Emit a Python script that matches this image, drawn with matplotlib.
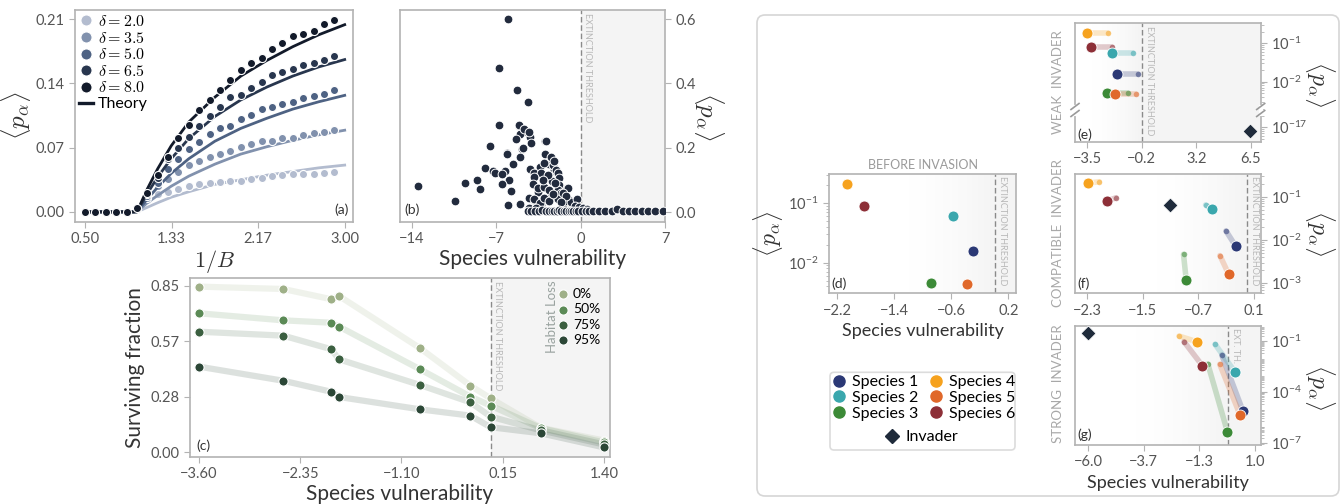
import numpy as np
import matplotlib.pyplot as plt
from matplotlib.patches import FancyBboxPatch
from matplotlib.lines import Line2D
from matplotlib.ticker import LogLocator, NullFormatter

plt.rcParams['font.family'] = ['Lato', 'DejaVu Sans']
plt.rcParams['mathtext.fontset'] = 'cm'
plt.rcParams['axes.edgecolor'] = '#b3b3b3'
plt.rcParams['axes.linewidth'] = 1.2
plt.rcParams['xtick.color'] = '#b3b3b3'
plt.rcParams['ytick.color'] = '#b3b3b3'
plt.rcParams['xtick.labelcolor'] = '#555555'
plt.rcParams['ytick.labelcolor'] = '#555555'
plt.rcParams['xtick.labelsize'] = 10.5
plt.rcParams['ytick.labelsize'] = 10.5
plt.rcParams['axes.labelcolor'] = '#333333'
plt.rcParams['xtick.major.size'] = 4
plt.rcParams['ytick.major.size'] = 4
plt.rcParams['xtick.minor.size'] = 2
plt.rcParams['ytick.minor.size'] = 2

W, H = 1343, 504

# ---- (a) mean abundance vs 1/B
x_a = [0.5, 0.6, 0.7, 0.8, 0.9, 1.0, 1.1, 1.2, 1.3, 1.4, 1.5, 1.6, 1.7,
       1.8, 1.9, 2.0, 2.1, 2.2, 2.3, 2.4, 2.5, 2.6, 2.7, 2.8, 2.9]
deltas = [2.0, 3.5, 5.0, 6.5, 8.0]
pa_20 = [0, 0, 0, 0, 0, 0.003, 0.013, 0.019, 0.022, 0.025, 0.028, 0.030, 0.031,
         0.033, 0.034, 0.034, 0.036, 0.037, 0.039, 0.040, 0.041, 0.041, 0.041, 0.042, 0.043]
pa_35 = [0, 0, 0, 0, 0, 0.003, 0.015, 0.028, 0.036, 0.044, 0.051, 0.055, 0.060,
         0.063, 0.066, 0.071, 0.074, 0.077, 0.077, 0.081, 0.081, 0.084, 0.086, 0.087, 0.089]
pa_50 = [0, 0, 0, 0, 0, 0.003, 0.017, 0.032, 0.047, 0.058, 0.068, 0.076, 0.085,
         0.091, 0.094, 0.101, 0.106, 0.112, 0.114, 0.118, 0.120, 0.124, 0.126, 0.129, 0.133]
pa_65 = [0, 0, 0, 0, 0, 0.004, 0.019, 0.037, 0.058, 0.070, 0.082, 0.094, 0.104,
         0.114, 0.125, 0.127, 0.135, 0.142, 0.149, 0.152, 0.156, 0.160, 0.162, 0.165, 0.170]
pa_80 = [0, 0, 0, 0, 0, 0.004, 0.021, 0.040, 0.060, 0.081, 0.095, 0.111, 0.122,
         0.133, 0.144, 0.155, 0.162, 0.168, 0.177, 0.184, 0.192, 0.194, 0.197, 0.205, 0.209]
x_theory = [0.5, 0.9, 1.0, 1.1, 1.2, 1.33, 1.5, 1.75, 2.0, 2.25, 2.5, 2.75, 3.0]
th_20 = [0, 0, 0, 0.005, 0.010, 0.016, 0.022, 0.030, 0.035, 0.040, 0.044, 0.048, 0.051]
th_35 = [0, 0, 0, 0.010, 0.018, 0.028, 0.039, 0.052, 0.063, 0.071, 0.078, 0.084, 0.089]
th_50 = [0, 0, 0, 0.014, 0.027, 0.042, 0.058, 0.077, 0.091, 0.102, 0.112, 0.120, 0.127]
th_65 = [0, 0, 0, 0.020, 0.038, 0.058, 0.080, 0.104, 0.122, 0.136, 0.148, 0.158, 0.166]
th_80 = [0, 0, 0, 0.025, 0.047, 0.072, 0.098, 0.125, 0.148, 0.165, 0.180, 0.193, 0.204]
a_colors = ['#b3bccf', '#8191ad', '#4e6283', '#28364e', '#121a2a']

# ---- (b) abundance vs vulnerability
xb = [-6.0, -6.8, -5.3, -4.35, -6.8, -5.1, -4.8, -4.45, -5.0, -4.2, -4.15, -5.35,
      -7.55, -4.85, -6.1, -6.1, -2.95, -2.95, -5.0, -2.8, -2.6, -5.65, -7.95, -3.4,
      -4.2, -2.2, -2.05, -1.9, -7.25, -6.3, -7.1, -6.55, -3.85, -8.6, -9.6, -5.95,
      -6.55, -13.5, -8.4, -5.8, -10.45, -6.0, -5.0, -5.08, -4.67, -4.25, -4.8,
      -2.89, -2.33, -2.06, -1.92, -1.78, -1.78, -2.06, -2.47, -3.02, -3.57, -3.98,
      -3.84, -4.25, -3.3, -1.37, -1.1, -0.96, -0.68, -0.27, -2.47, -2.2, -3.02,
      -3.3, -3.84, -3.98, -3.57, -3.02, -2.61, -1.92, -1.04, -1.64, -4.26, -3.84,
      -3.35, -3.02, -2.61, -1.92, -1.31, -0.82, -0.27, -4.4, -3.71, -2.4, -2.7,
      -1.5, -1.2, -0.5, -2.1, -1.6, -3.1, -2.3, -0.1, 0.2, 0.5,
      -4.1, -3.8, -3.5, -3.2, -2.9, -2.6, -2.4, -2.2, -2.0, -1.8, -1.6, -1.4,
      -1.2, -1.0, -0.8, -0.6, -0.4, -0.2, 0.1, 0.4, 0.7, 1.0, 1.5, 2.0, 2.6,
      3.0, 3.5, 4.0, 4.5, 5.1, 5.6, 6.2, 6.8]
yb = [0.600, 0.449, 0.379, 0.343, 0.270, 0.267, 0.253, 0.250, 0.241, 0.232, 0.214,
      0.228, 0.206, 0.196, 0.185, 0.180, 0.222, 0.180, 0.172, 0.151, 0.150, 0.148,
      0.136, 0.141, 0.133, 0.130, 0.124, 0.118, 0.127, 0.126, 0.120, 0.117, 0.120,
      0.100, 0.089, 0.100, 0.088, 0.082, 0.072, 0.065, 0.034, 0.022, 0.024, 0.270,
      0.257, 0.250, 0.198, 0.222, 0.146, 0.131, 0.120, 0.105, 0.085, 0.063, 0.048,
      0.079, 0.063, 0.089, 0.037, 0.012, 0.022, 0.027, 0.074, 0.037, 0.022, 0.012,
      0.172, 0.160, 0.152, 0.120, 0.110, 0.086, 0.074, 0.078, 0.068, 0.070, 0.074,
      0.058, 0.044, 0.039, 0.028, 0.044, 0.033, 0.039, 0.033, 0.031, 0.039, 0.002,
      0.012, 0.095, 0.115, 0.060, 0.050, 0.020, 0.090, 0.030, 0.100, 0.055, 0.015,
      0.012, 0.008,
      0.003, 0.004, 0.002, 0.005, 0.003, 0.002, 0.004, 0.003, 0.002, 0.005, 0.003,
      0.002, 0.004, 0.003, 0.002, 0.004, 0.003, 0.002, 0.004, 0.003, 0.002, 0.003,
      0.002, 0.003, 0.002, 0.010, 0.003, 0.002, 0.003, 0.002, 0.003, 0.002, 0.003]

# ---- (c) surviving fraction under habitat loss
x_c = [-3.60, -2.56, -1.97, -1.87, -0.87, -0.25, 0.0, 0.62, 1.40]
hl_0 = [0.845, 0.833, 0.781, 0.797, 0.531, 0.340, 0.275, 0.125, 0.060]
hl_50 = [0.709, 0.673, 0.661, 0.641, 0.423, 0.284, 0.238, 0.123, 0.050]
hl_75 = [0.615, 0.595, 0.526, 0.474, 0.343, 0.255, 0.182, 0.112, 0.040]
hl_95 = [0.437, 0.365, 0.309, 0.282, 0.219, 0.187, 0.128, 0.097, 0.025]
hl_labels = ['0%', '50%', '75%', '95%']
hl_colors = ['#9fb088', '#5b8a56', '#3b5f40', '#2b4636']

# ---- (d)-(g) invasion, species 1..6
species = ['Species 1', 'Species 2', 'Species 3', 'Species 4', 'Species 5', 'Species 6']
sp_colors = ['#2b3875', '#3aa7ad', '#3c8a37', '#f6a21e', '#e0682a', '#8d2f37']
inv_color = '#1f2b3b'

d_x = [-0.29, -0.58, -0.885, -2.064, -0.376, -1.821]
d_y = [0.0159, 0.0618, 0.0046, 0.211, 0.0043, 0.091]

e_before_x = [-0.41, -0.715, -1.02, -2.25, -0.51, -2.0]
e_before_y = [0.0162, 0.0569, 0.0050, 0.182, 0.0047, 0.0815]
e_after_x = [-1.70, -1.985, -2.31, -3.5, -1.80, -3.27]
e_after_y = [0.0162, 0.0569, 0.0050, 0.182, 0.0047, 0.0815]
e_inv = (6.48, 8e-18)

f_before_x = [-0.303, -0.597, -0.915, -2.127, -0.39, -1.886]
f_before_y = [0.0162, 0.0645, 0.00468, 0.222, 0.00437, 0.0948]
f_after_x = [-0.164, -0.511, -0.876, -2.294, -0.265, -2.01]
f_after_y = [0.00726, 0.052, 0.00119, 0.204, 0.00163, 0.0796]
f_inv = (-1.107, 0.0646)

g_before_x = [-0.395, -0.676, -0.98, -2.19, -0.48, -1.98]
g_before_y = [0.0149, 0.064, 0.0044, 0.197, 0.0042, 0.091]
g_after_x = [0.487, 0.176, -0.16, -1.446, 0.374, -1.21]
g_after_y = [7.8e-6, 0.0014, 4.5e-7, 0.091, 4.3e-6, 0.0035]
g_inv = (-6.0, 0.284)

PA = r'$\langle p_\alpha \rangle$'


def rect(x0, y0, x1, y1):
    return [x0 / W, 1 - y1 / H, (x1 - x0) / W, (y1 - y0) / H]


def fmt(v, n):
    return ('%.*f' % (n, v)).replace('-', '\u2212')


def sci(e):
    return r'$\mathregular{10^{%d}}$' % e


def threshold(ax, x, xmax, label, grad_from=None, fs=6.5):
    ax.axvspan(x, xmax, color='#f4f4f4', lw=0, zorder=0)
    if grad_from is not None:
        edges = np.linspace(grad_from, x, 31)
        for k in range(30):
            ax.axvspan(edges[k], edges[k + 1], color='#f4f4f4',
                       alpha=((k + 1) / 30) ** 1.5, lw=0, zorder=0)
    ax.axvline(x, color='#8a8a8a', ls=(0, (4, 2)), lw=1, zorder=1)
    if label:
        ax.annotate(label, xy=(x, 0.985), xycoords=ax.get_xaxis_transform(),
                    xytext=(2, 0), textcoords='offset points', rotation=-90,
                    ha='left', va='top', fontsize=fs, color='#b8b8b8')


def panel_tag(ax, tag, right=False):
    ax.text(0.985 if right else 0.015, 0.03, tag, transform=ax.transAxes,
            ha='right' if right else 'left', va='bottom', fontsize=10, color='#333333')


def log_right(ax, exps, lo, hi):
    ax.set_yscale('log')
    ax.set_ylim(10 ** lo, 10 ** hi)
    ax.yaxis.tick_right()
    ax.set_yticks([10.0 ** e for e in exps])
    ax.set_yticklabels([sci(e) for e in exps])
    ax.yaxis.set_minor_locator(LogLocator(base=10, subs=np.arange(2, 10), numticks=100))
    ax.yaxis.set_minor_formatter(NullFormatter())


def invasion(ax, bx, by, axx, ayy):
    for i in range(6):
        ax.plot([bx[i], axx[i]], [by[i], ayy[i]], color=sp_colors[i], alpha=0.25,
                lw=4, solid_capstyle='round', zorder=2)
        ax.scatter(bx[i], by[i], s=16, color=sp_colors[i], alpha=0.55, lw=0, zorder=3)
        ax.scatter(axx[i], ayy[i], s=62, color=sp_colors[i], edgecolor='white',
                   lw=0.6, zorder=4)


fig = plt.figure(figsize=(W / 100, H / 100), dpi=100)

# ---------------- (a)
ax = fig.add_axes(rect(75, 10, 353, 222))
a_points = [pa_20, pa_35, pa_50, pa_65, pa_80]
a_theory = [th_20, th_35, th_50, th_65, th_80]
for i in range(5):
    ax.plot(x_theory, a_theory[i], color=a_colors[i], lw=2, zorder=2 + 2 * i)
    ax.scatter(x_a, a_points[i], s=34, color=a_colors[i], edgecolor='white',
               linewidth=0.8, zorder=3 + 2 * i)
ax.set_xlim(0.404, 3.08)
ax.set_ylim(-0.011, 0.22)
ax.set_xticks(np.linspace(0.5, 3.0, 4))
ax.set_xticklabels([fmt(v, 2) for v in np.linspace(0.5, 3.0, 4)])
ax.set_yticks([0, 0.07, 0.14, 0.21])
ax.set_yticklabels([fmt(v, 2) for v in [0, 0.07, 0.14, 0.21]])
ax.set_xlabel(r'$1/B$', fontsize=16, labelpad=1)
ax.set_ylabel(PA, fontsize=18, labelpad=2)
handles = [Line2D([], [], ls='', marker='o', ms=8, color=c, mec='white', mew=0.8)
           for c in a_colors]
handles.append(Line2D([], [], color=a_colors[-1], lw=2.4))
labels = [r'$\delta = %.1f$' % d for d in deltas] + ['Theory']
ax.legend(handles, labels, loc='upper left', frameon=False, fontsize=11.5,
          handlelength=0.9, handletextpad=0.3, labelspacing=0.1,
          borderaxespad=0.15, borderpad=0.1)
panel_tag(ax, '(a)', right=True)

# ---------------- (b)
axb = fig.add_axes(rect(400, 10, 665, 222))
threshold(axb, 0, 7.5, 'EXTINCTION THRESHOLD')
axb.scatter(xb, yb, s=40, color='#222b3d', edgecolor='white', lw=0.7, zorder=3)
axb.set_xlim(-15, 7)
axb.set_ylim(-0.031, 0.628)
axb.set_xticks([-14, -7, 0, 7])
axb.set_xticklabels([fmt(v, 0) for v in [-14, -7, 0, 7]])
axb.yaxis.tick_right()
axb.yaxis.set_label_position('right')
axb.set_yticks([0, 0.2, 0.4, 0.6])
axb.set_yticklabels([fmt(v, 1) for v in [0, 0.2, 0.4, 0.6]])
axb.set_xlabel('Species vulnerability', fontsize=15, labelpad=2)
axb.set_ylabel(PA, fontsize=18, rotation=270, labelpad=22)
panel_tag(axb, '(b)')

# ---------------- (c)
axc = fig.add_axes(rect(190, 278, 610, 457))
threshold(axc, 0.0, 1.6, 'EXTINCTION THRESHOLD')
for ys, c, lab in zip([hl_0, hl_50, hl_75, hl_95], hl_colors, hl_labels):
    axc.plot(x_c, ys, color=c, alpha=0.16, lw=4.5, solid_capstyle='round', zorder=2)
    axc.scatter(x_c, ys, s=44, color=c, edgecolor='white', lw=0.8, zorder=3, label=lab)
axc.set_xlim(-3.711, 1.474)
axc.set_ylim(-0.024, 0.889)
xt = np.linspace(-3.6, 1.4, 5)
axc.set_xticks(xt)
axc.set_xticklabels([fmt(v, 2) for v in xt])
yt = np.linspace(0, 0.85, 4)
axc.set_yticks(yt)
axc.set_yticklabels([fmt(v, 2) for v in yt])
axc.set_xlabel('Species vulnerability', fontsize=15, labelpad=2)
axc.set_ylabel('Surviving fraction', fontsize=15, labelpad=4)
axc.legend(loc='upper right', frameon=False, fontsize=10, handletextpad=0.1,
           labelspacing=0.25, borderaxespad=0.3, handlelength=1.2)
fig.text(552 / W, 1 - 317 / H, 'Habitat Loss', rotation=90, ha='center',
         va='center', fontsize=9.5, color='#9aa3a0')
panel_tag(axc, '(c)')

# ---------------- right group frame
fig.add_artist(FancyBboxPatch((757, H - 496), 582, 481,
                              boxstyle='round,pad=0,rounding_size=8',
                              transform=None, ec='#d6d6d6', fc='white', lw=1.2,
                              zorder=-5))

# ---------------- (d)
axd = fig.add_axes(rect(829, 174.3, 1016, 293.3))
threshold(axd, 0.02, 0.4, 'EXTINCTION THRESHOLD', grad_from=-1.2)
for i in range(6):
    axd.scatter(d_x[i], d_y[i], s=62, color=sp_colors[i], edgecolor='white', lw=0.6, zorder=4)
axd.set_yscale('log')
axd.set_xlim(-2.317, 0.308)
axd.set_ylim(10 ** -2.515, 10 ** -0.512)
axd.set_yticks([0.1, 0.01])
axd.set_yticklabels([sci(-1), sci(-2)])
axd.yaxis.set_minor_locator(LogLocator(base=10, subs=np.arange(2, 10), numticks=100))
axd.yaxis.set_minor_formatter(NullFormatter())
xt = np.linspace(-2.2, 0.2, 4)
axd.set_xticks(xt)
axd.set_xticklabels([fmt(v, 1) for v in xt])
axd.set_xlabel('Species vulnerability', fontsize=13, labelpad=4)
axd.set_ylabel(PA, fontsize=17, labelpad=2)
axd.set_title('BEFORE INVASION', fontsize=9, color='#9a9a9a', pad=4)
panel_tag(axd, '(d)')

# ---------------- (e) broken axis
ex0, ex1 = -4.25, 7.11
axe = fig.add_axes(rect(1075, 23.3, 1260.7, 110))
axe2 = fig.add_axes(rect(1075, 110, 1260.7, 141.7))
for a in (axe, axe2):
    threshold(a, -0.17, 7.5, '', grad_from=-3.2)
    a.set_xlim(ex0, ex1)
invasion(axe, e_before_x, e_before_y, e_after_x, e_after_y)
axe2.scatter([e_inv[0]], [e_inv[1]], marker='D', s=58, color=inv_color,
             edgecolor='white', lw=0.6, zorder=4)
log_right(axe, [-1, -2], -2.737, -0.479)
log_right(axe2, [-17], -17.375, -16.55)
axe.spines['bottom'].set_visible(False)
axe2.spines['top'].set_visible(False)
axe.tick_params(axis='x', bottom=False, labelbottom=False)
xt = np.linspace(-3.5, 6.5, 4)
axe2.set_xticks(xt)
axe2.set_xticklabels([fmt(v, 1) for v in xt])
panel_tag(axe2, '(e)')
fig.text(1145 / W, 1 - 26 / H, 'EXTINCTION THRESHOLD', rotation=-90, ha='left',
         va='top', fontsize=6.5, color='#b8b8b8')
for xp in (1075, 1260.7):
    fig.add_artist(Line2D([xp, xp], [H - 106.5, H - 113.5], transform=None,
                          color='white', lw=3, zorder=5))
    for yp in (106.5, 113.5):
        fig.add_artist(Line2D([xp - 4, xp + 4], [H - yp - 3, H - yp + 3],
                              transform=None, color='#9a9a9a', lw=1.2, zorder=6))

# ---------------- (f)
axf = fig.add_axes(rect(1075, 174.3, 1260.7, 293.3))
threshold(axf, 0.0, 0.3, 'EXTINCTION THRESHOLD', grad_from=-1.3)
invasion(axf, f_before_x, f_before_y, f_after_x, f_after_y)
axf.scatter([f_inv[0]], [f_inv[1]], marker='D', s=58, color=inv_color,
            edgecolor='white', lw=0.6, zorder=4)
axf.set_xlim(-2.478, 0.197)
log_right(axf, [-1, -2, -3], -3.231, -0.483)
xt = np.linspace(-2.3, 0.1, 4)
axf.set_xticks(xt)
axf.set_xticklabels([fmt(v, 1) for v in xt])
panel_tag(axf, '(f)')

# ---------------- (g)
axg = fig.add_axes(rect(1075, 326, 1260.7, 445))
threshold(axg, -0.12, 1.4, 'EXT. TH.', grad_from=-4.0)
invasion(axg, g_before_x, g_before_y, g_after_x, g_after_y)
axg.scatter([g_inv[0]], [g_inv[1]], marker='D', s=58, color=inv_color,
            edgecolor='white', lw=0.6, zorder=4)
axg.set_xlim(-6.56, 1.24)
log_right(axg, [-1, -4, -7], -7.136, -0.115)
xt = np.linspace(-6.0, 1.0, 4)
axg.set_xticks(xt)
axg.set_xticklabels([fmt(v, 1) for v in xt])
axg.set_xlabel('Species vulnerability', fontsize=13, labelpad=4)
panel_tag(axg, '(g)')

for txt, yc in [('WEAK  INVADER', 82), ('COMPATIBLE  INVADER', 233.5),
                ('STRONG  INVADER', 384)]:
    fig.text(1058 / W, 1 - yc / H, txt, rotation=90, ha='center', va='center',
             fontsize=9.5, color='#a8a8a8')
for yc in (84, 233, 387):
    fig.text(1320 / W, 1 - yc / H, PA, rotation=270, ha='center', va='center',
             fontsize=17, color='#333333')

# ---------------- species legend
sp_handles = [Line2D([], [], ls='', marker='o', ms=8, color=c) for c in sp_colors]
fig.legend(sp_handles, species, loc='upper left',
           bbox_to_anchor=(833 / W, 1 - 375 / H), ncol=2, frameon=False,
           fontsize=11.5, handlelength=0.8, handletextpad=0.4, columnspacing=0.7,
           labelspacing=0.1, borderpad=0, borderaxespad=0)
fig.legend([Line2D([], [], ls='', marker='D', ms=7.5, color=inv_color)], ['Invader'],
           loc='center', bbox_to_anchor=(922 / W, 1 - 437 / H), frameon=False,
           fontsize=11.5, handlelength=0.8, handletextpad=0.4, borderpad=0,
           borderaxespad=0)
fig.add_artist(FancyBboxPatch((830, H - 450), 185, 77.7,
                              boxstyle='round,pad=0,rounding_size=4',
                              transform=None, ec='#dcdcdc', fc='none', lw=1.2))

fig.savefig('out.png', dpi=100)
